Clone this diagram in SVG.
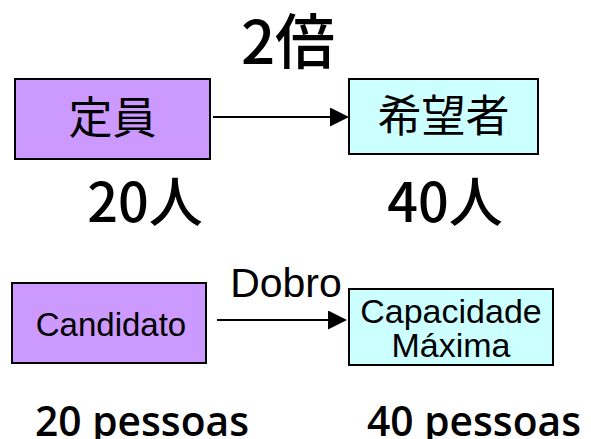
<svg xmlns="http://www.w3.org/2000/svg" width="591" height="439" viewBox="0 0 591 439">
<style>
.box{stroke:#000;stroke-width:2}
.p{fill:#CC99FF}
.c{fill:#CCFFFF}
.cjk{font-family:"Noto Sans CJK JP","Noto Sans CJK SC",sans-serif;font-weight:500;fill:#000}
.cjkr{font-family:"Noto Sans CJK JP","Noto Sans CJK SC",sans-serif;font-weight:400;fill:#000}
.lat{font-family:"Liberation Sans",Arial,sans-serif;fill:#000}
.big{font-family:"Open Sans","Noto Sans",sans-serif;font-weight:600;fill:#000}
.conn{stroke:#000;stroke-width:2;fill:none}
</style>
<defs>
<marker id="ah" markerUnits="userSpaceOnUse" markerWidth="19" markerHeight="19" refX="1" refY="9.5" orient="auto">
<path d="M0,0 L19,9.5 L0,19 z" fill="#000"/>
</marker>
</defs>
<rect width="591" height="439" fill="#fff"/>
<g id="title-top"><text class="cjk" x="288" y="64" font-size="60" text-anchor="middle">2倍</text></g>
<g id="teiin">
<rect class="box p" x="15" y="79" width="195" height="80"/>
<text class="cjkr" x="112.5" y="134" font-size="44" text-anchor="middle">定員</text>
</g>
<g id="kibousha">
<rect class="box c" x="349" y="79" width="189" height="75"/>
<text class="cjkr" x="443.5" y="132" font-size="44" text-anchor="middle">希望者</text>
</g>
<g id="n20"><text class="cjk" x="145" y="222" font-size="54" text-anchor="middle">20人</text></g>
<g id="n40"><text class="cjk" x="445" y="222" font-size="54" text-anchor="middle">40人</text></g>
<g id="candidato">
<rect class="box p" x="12" y="283" width="194" height="80"/>
<text class="lat" x="111" y="336" font-size="33" text-anchor="middle">Candidato</text>
</g>
<g id="capacidade">
<rect class="box c" x="349" y="289" width="204" height="76"/>
<text class="lat" x="451" y="323" font-size="34" text-anchor="middle">Capacidade</text>
<text class="lat" x="451" y="357" font-size="34" text-anchor="middle">Máxima</text>
</g>
<g id="dobro"><text class="lat" x="286" y="297" font-size="41" text-anchor="middle">Dobro</text></g>
<g id="p20"><text class="big" x="35" y="436" font-size="41" textLength="214" lengthAdjust="spacingAndGlyphs">20 pessoas</text></g>
<g id="p40"><text class="big" x="367" y="436" font-size="41" textLength="214" lengthAdjust="spacingAndGlyphs">40 pessoas</text></g>
<g id="connectors">
<line class="conn" x1="213" y1="117" x2="331" y2="117" marker-end="url(#ah)"/>
<line class="conn" x1="217" y1="320" x2="329" y2="320" marker-end="url(#ah)"/>
</g>
</svg>
